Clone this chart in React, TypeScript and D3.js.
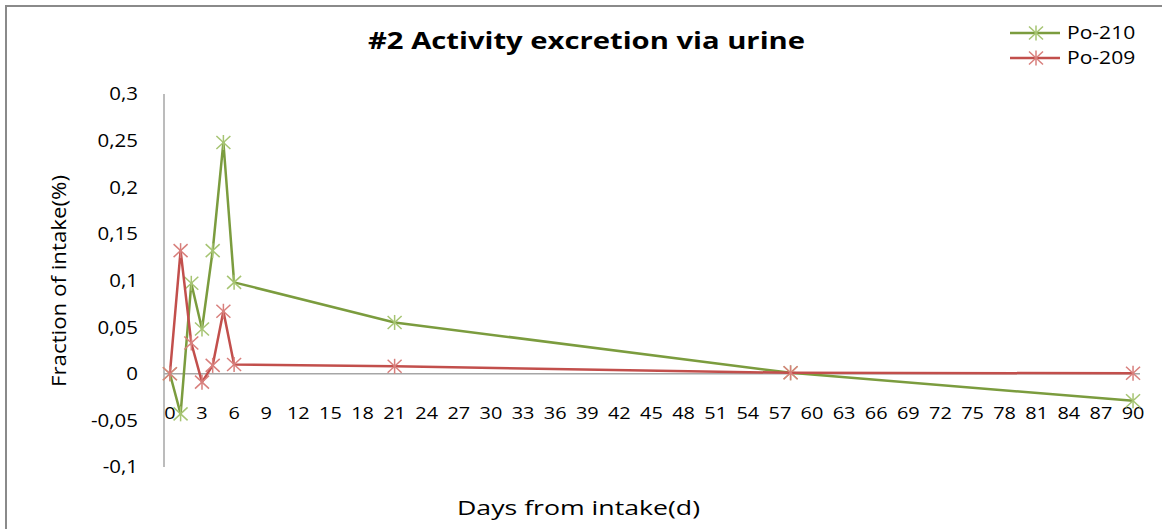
import React from "react";
import * as d3 from "d3";

const days = [0, 1, 2, 3, 4, 5, 6, 21, 58, 90];
const po210 = [0, -0.043, 0.097, 0.048, 0.132, 0.248, 0.098, 0.055, 0.001, -0.029];
const po209 = [0, 0.132, 0.033, -0.009, 0.009, 0.067, 0.01, 0.008, 0.001, 0.0005];
const xTicks = d3.range(0, 91, 3);
const yTicks = [-0.1, -0.05, 0, 0.05, 0.1, 0.15, 0.2, 0.25, 0.3];
const seriesNames = ["Po-210", "Po-209"];

const W = 1162;
const H = 529;
const FONT = "'Open Sans', 'Liberation Sans', sans-serif";
const SX = 1.17;

const series = [
  { name: seriesNames[0], values: po210, line: "#7b9c3e", marker: "#a6c472" },
  { name: seriesNames[1], values: po209, line: "#c24f4c", marker: "#d87f7c" },
];

function Star({ cx, cy, color }: { cx: number; cy: number; color: string }) {
  const a = 7;
  const b = 6.5;
  return (
    <g stroke={color} strokeWidth={1.5} fill="none">
      <line x1={cx - a} y1={cy - b} x2={cx + a} y2={cy + b} />
      <line x1={cx - a} y1={cy + b} x2={cx + a} y2={cy - b} />
      <line x1={cx} y1={cy - b - 1} x2={cx} y2={cy + b + 1} />
    </g>
  );
}

function SText({ x, y, children, ...rest }: any) {
  return (
    <g transform={`translate(${x},${y}) scale(${SX},1)`}>
      <text x={0} y={0} fill="#000" {...rest}>
        {children}
      </text>
    </g>
  );
}

export default function App() {
  const x = d3.scaleLinear().domain([-0.55, 90.65]).range([164, 1140]);
  const y = d3.scaleLinear().domain([-0.1, 0.3]).range([467, 94]);
  const fmt = (v: number) => String(+v.toFixed(2)).replace(".", ",");
  const lineGen = d3
    .line<number>()
    .x((_, i) => x(days[i]))
    .y((v) => y(v));

  return (
    <svg
      width={W}
      height={H}
      style={{ position: "absolute", left: 0, top: 0, background: "#fff" }}
      fontFamily={FONT}
    >
      <rect x={0} y={0} width={W} height={H} fill="#fff" />
      <rect x={6} y={6} width={W + 50} height={H + 50} fill="none" stroke="#8a8a8a" strokeWidth={2} />

      <text
        x={368}
        y={49}
        fontSize={22.5}
        fontWeight="bold"
        fill="#000"
        textLength={437}
        lengthAdjust="spacingAndGlyphs"
      >
        #2 Activity excretion via urine
      </text>

      {/* axes */}
      <line x1={x.range()[0]} x2={x.range()[1]} y1={y(0)} y2={y(0)} stroke="#a6a6a6" strokeWidth={1.5} />
      <line x1={x.range()[0]} x2={x.range()[0]} y1={y(0.3)} y2={y(-0.1)} stroke="#a6a6a6" strokeWidth={1.5} />

      {yTicks.map((t) => (
        <SText key={t} x={138} y={y(t)} textAnchor="end" dominantBaseline="central" fontSize={17.5}>
          {fmt(t)}
        </SText>
      ))}
      {xTicks.map((t) => (
        <SText key={t} x={x(t)} y={419} textAnchor="middle" fontSize={17}>
          {t}
        </SText>
      ))}

      <text
        transform={`translate(58,281) rotate(-90)`}
        textAnchor="middle"
        dominantBaseline="central"
        fontSize={20}
        fill="#000"
        textLength={212}
        lengthAdjust="spacingAndGlyphs"
      >
        Fraction of intake(%)
      </text>
      <text
        x={457}
        y={515}
        fontSize={20}
        fill="#000"
        textLength={243}
        lengthAdjust="spacingAndGlyphs"
      >
        Days from intake(d)
      </text>

      {series.map((s) => (
        <g key={s.name}>
          <path d={lineGen(s.values) || ""} fill="none" stroke={s.line} strokeWidth={2.5} strokeLinejoin="round" />
          {s.values.map((v, i) => (
            <Star key={i} cx={x(days[i])} cy={y(v)} color={s.marker} />
          ))}
        </g>
      ))}

      {series.map((s, i) => (
        <g key={s.name}>
          <line x1={1010} x2={1060} y1={33 + i * 25} y2={33 + i * 25} stroke={s.line} strokeWidth={2.5} />
          <Star cx={1036} cy={33 + i * 25} color={s.marker} />
          <SText x={1067} y={39 + i * 25} fontSize={18}>
            {s.name}
          </SText>
        </g>
      ))}
    </svg>
  );
}
